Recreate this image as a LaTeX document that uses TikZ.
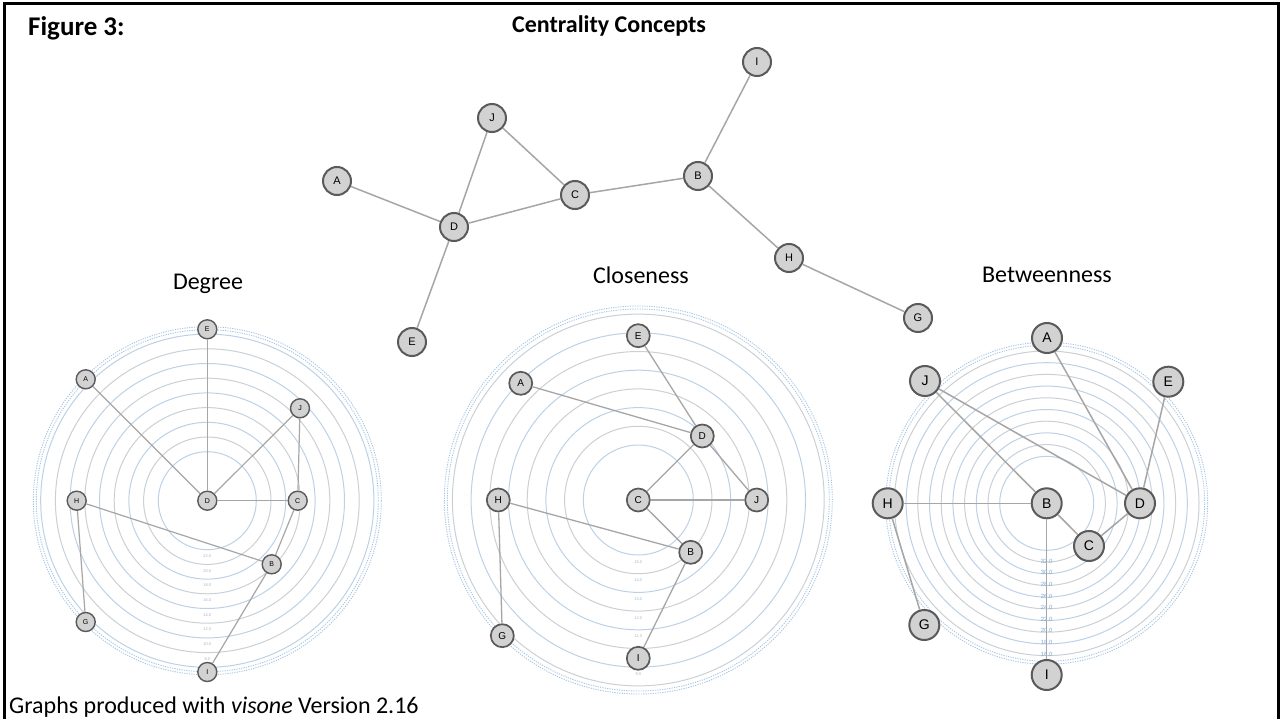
\documentclass[tikz,border=0pt]{standalone}
\usepackage{fontspec}
\usetikzlibrary{calc}
\setmainfont{Carlito}
\newfontfamily\labelfont{Liberation Sans}
\definecolor{nodefill}{HTML}{D2D2D2}
\definecolor{nodeline}{HTML}{5A5A5A}
\definecolor{edgecol}{HTML}{A6A6A6}
\definecolor{ringblue}{HTML}{BDD1E6}
\definecolor{ringgray}{HTML}{CBD0D5}
\definecolor{ringdot}{HTML}{A9C5E2}
\definecolor{ringtext}{HTML}{A8B6C6}
\definecolor{bettext}{HTML}{7FA7D2}
\newcommand{\fsz}[1]{\fontsize{#1}{#1}\selectfont}
\begin{document}
\begin{tikzpicture}[x=1pt,y=-1pt,
  vnode/.style={circle,draw=nodeline,fill=nodefill,inner sep=0pt},
  topnode/.style={vnode,minimum size=28pt,line width=2pt,font=\labelfont\fsz{11}},
  degnode/.style={vnode,minimum size=19pt,line width=1.4pt,font=\labelfont\fsz{7}},
  clonode/.style={vnode,minimum size=23pt,line width=1.7pt,font=\labelfont\fsz{10}},
  betnode/.style={vnode,minimum size=30pt,line width=2pt,font=\labelfont\fsz{14}},
  edge/.style={draw=edgecol,line width=1.5pt},
  ringa/.style={draw=ringblue,line width=1pt},
  ringb/.style={draw=ringgray,line width=1pt},
  ringouter/.style={draw=ringdot,line width=0.9pt,dash pattern=on 1.2pt off 1.2pt},
  title/.style={font=\bfseries\fsz{24},anchor=base west,inner sep=0pt},
  caption/.style={font=\fsz{24},inner sep=0pt},
  ticklbl/.style={font=\labelfont\fsz{4},text=ringtext,inner sep=0pt},
  betlbl/.style={font=\labelfont\fsz{6},text=bettext,inner sep=0pt}]
\useasboundingbox (0,0) rectangle (1282,719);
\fill[white] (0,0) rectangle (1282,719);
% frame
\draw[line width=3pt] (4,719) -- (4,4) -- (1278,4) -- (1278,719);

% headings
\node[title,font=\bfseries\fsz{27}] (fig) at (28,36) {Figure 3:};
\node[title] (cc) at (512,33) {Centrality Concepts};
\node[caption] (capdeg) at (208,284) {Degree};
\node[caption] (capclo) at (641,275) {Closeness};
\node[caption] (capbet) at (1047,275) {Betweenness};
\node[caption,anchor=base west] (foot) at (9,713) {Graphs produced with \textit{visone} Version 2.16};

% ---------- network ----------
\node[topnode] (tA) at (337,181) {A};
\node[topnode] (tJ) at (492,118) {J};
\node[topnode] (tD) at (454,227) {D};
\node[topnode] (tC) at (575,195) {C};
\node[topnode] (tB) at (698,176) {B};
\node[topnode] (tI) at (757,62) {I};
\node[topnode] (tH) at (789,258) {H};
\node[topnode] (tG) at (918,318) {G};
\node[topnode] (tE) at (412,342) {E};
\foreach \a/\b in {A/D,J/D,J/C,D/C,C/B,B/I,B/H,H/G,D/E}
  \draw[edge] (t\a) -- (t\b);

% ---------- degree layout ----------
\coordinate (dc) at (207.3,500.7);
\foreach \k in {0,...,8}{
  \pgfmathsetmacro\r{49+14.7*\k}
  \ifodd\k \draw[ringb] (dc) circle[radius=\r pt]; \else \draw[ringa] (dc) circle[radius=\r pt]; \fi
}
\draw[ringouter] (dc) circle[radius=171pt];
\draw[ringouter] (dc) circle[radius=174pt];
\foreach \t [count=\i from 0] in {22.0,20.0,18.0,16.0,14.0,12.0,10.0,8.0}
  \node[ticklbl] at ($(dc)+(0,55.3+14.7*\i)$) {\t};
\node[degnode] (dD) at (207.3,500.7) {D};
\node[degnode] (dE) at (207.3,329.3) {E};
\node[degnode] (dA) at (85.7,379.3) {A};
\node[degnode] (dJ) at (300,408.3) {J};
\node[degnode] (dH) at (76.7,500.7) {H};
\node[degnode] (dC) at (297.7,500.7) {C};
\node[degnode] (dB) at (271.7,564.3) {B};
\node[degnode] (dG) at (85.7,622) {G};
\node[degnode] (dI) at (207.3,672) {I};
\foreach \a/\b in {A/D,J/D,J/C,D/C,C/B,B/I,B/H,H/G,D/E}
  \draw[edge,line width=1.2pt] (d\a) -- (d\b);

% ---------- closeness layout ----------
\coordinate (cc0) at (638.3,500);
\foreach \k in {0,...,7}{
  \pgfmathsetmacro\r{55+18.7*\k}
  \ifodd\k \draw[ringb] (cc0) circle[radius=\r pt]; \else \draw[ringa] (cc0) circle[radius=\r pt]; \fi
}
\draw[ringouter] (cc0) circle[radius=191pt];
\draw[ringouter] (cc0) circle[radius=194pt];
\foreach \t/\d in {15.0/61.7,14.0/80.4,13.0/99.1,12.0/117.8,11.0/136.5,9.0/173.9}
  \node[ticklbl] at ($(cc0)+(0,\d)$) {\t};
\node[clonode] (cC) at (638.3,500) {C};
\node[clonode] (cE) at (638.3,335.7) {E};
\node[clonode] (cA) at (520.7,383.3) {A};
\node[clonode] (cD) at (702.3,436) {D};
\node[clonode] (cJ) at (756.7,500) {J};
\node[clonode] (cH) at (498.3,500) {H};
\node[clonode] (cB) at (690.7,552.3) {B};
\node[clonode] (cG) at (502.3,635.7) {G};
\node[clonode] (cI) at (638.3,658.3) {I};
\foreach \a/\b in {A/D,J/D,J/C,D/C,C/B,B/I,B/H,H/G,D/E}
  \draw[edge,line width=1.3pt] (c\a) -- (c\b);

% ---------- betweenness layout ----------
\coordinate (bc) at (1046.7,503.3);
\foreach \k in {0,...,9}{
  \pgfmathsetmacro\r{47+11.7*\k}
  \ifodd\k \draw[ringb] (bc) circle[radius=\r pt]; \else \draw[ringa] (bc) circle[radius=\r pt]; \fi
}
\draw[ringouter] (bc) circle[radius=158pt];
\draw[ringouter] (bc) circle[radius=161pt];
\foreach \t [count=\i from 0] in {32.0,30.0,28.0,26.0,24.0,22.0,20.0,18.0,16.0}
  \node[betlbl] at ($(bc)+(0,57.7+11.65*\i)$) {\t};
\node[betnode] (bB) at (1046.7,503.3) {B};
\node[betnode] (bA) at (1047,338) {A};
\node[betnode] (bJ) at (925,381) {J};
\node[betnode] (bE) at (1168.3,381.7) {E};
\node[betnode] (bH) at (887.7,503.3) {H};
\node[betnode] (bD) at (1140,503.3) {D};
\node[betnode] (bC) at (1089,546) {C};
\node[betnode] (bG) at (924.3,625) {G};
\node[betnode] (bI) at (1046.7,675) {I};
\foreach \a/\b in {A/D,J/D,J/B,E/D,C/D,B/C,B/I,B/H,H/G}
  \draw[edge] (b\a) -- (b\b);
\end{tikzpicture}
\end{document}
